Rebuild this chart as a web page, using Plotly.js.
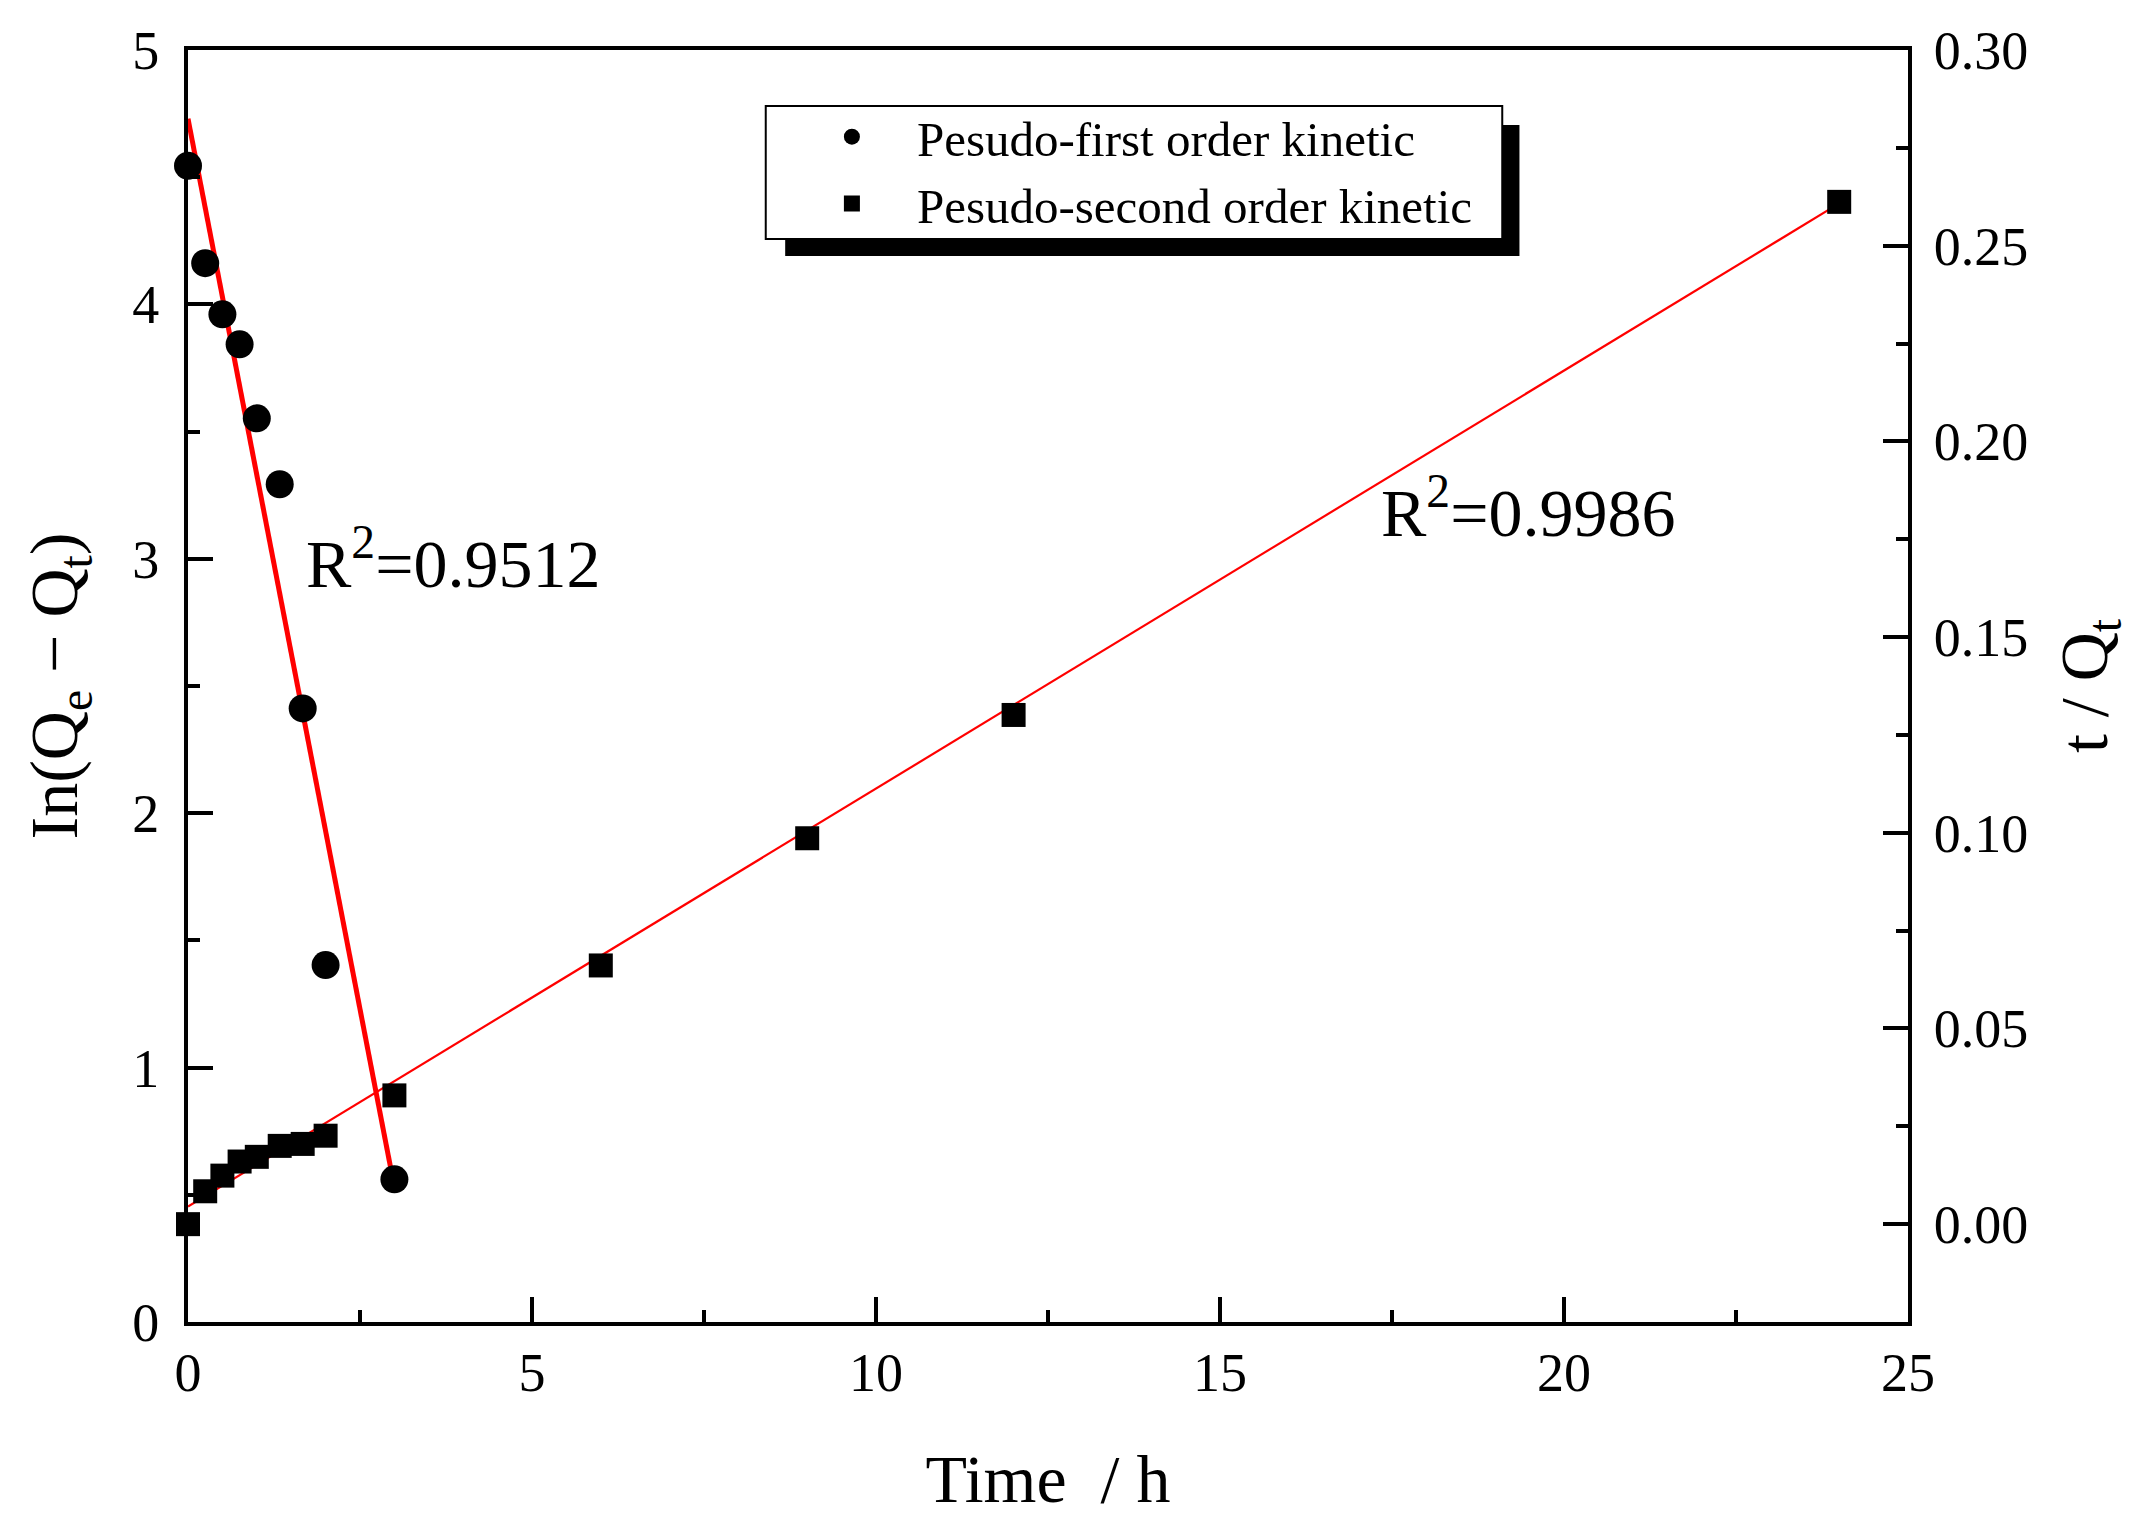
<!DOCTYPE html>
<html>
<head>
<meta charset="utf-8">
<script src="https://cdn.plot.ly/plotly-3.0.1.min.js"></script>
<style>
  html, body { margin: 0; padding: 0; background: #ffffff; }
  #graph { width: 2155px; height: 1532px; }
</style>
</head>
<body>
<div id="graph"></div>
<script>
// time points (h)
var time_first = [0, 0.25, 0.5, 0.75, 1, 1.333, 1.667, 2, 3];
var time_second = [0, 0.25, 0.5, 0.75, 1, 1.333, 1.667, 2, 3, 6, 9, 12, 24];

// pseudo-first order: ln(Qe - Qt), left axis
var ln_qe_qt = [4.545, 4.162, 3.961, 3.843, 3.552, 3.293, 2.412, 1.403, 0.561];

// pseudo-second order: t / Qt, right axis
var t_over_qt = [0, 0.0084, 0.0124, 0.0160, 0.0172, 0.0200, 0.0205, 0.0226, 0.0329, 0.0661, 0.0986, 0.1301, 0.2612];

// fitted lines, end points
var fit_first_x = [0, 3];
var fit_first_y = [4.73, 0.53];
var fit_second_x = [0, 24];
var fit_second_y = [0.0045, 0.2608];

var r2_labels = ['R<sup>2</sup>=0.9512', 'R<sup>2</sup>=0.9986'];

var FONT = 'Liberation Serif, Times New Roman, serif';
var GRAPHDIV = document.getElementById('graph');

var data = [];

//fit lines first so the markers sit on top
data.push({
    x: fit_first_x,
    y: fit_first_y,
    mode: 'lines',
    line: {color: '#ff0000', width: 5},
    showlegend: false,
    hoverinfo: 'none'
});
data.push({
    x: fit_second_x,
    y: fit_second_y,
    yaxis: 'y2',
    mode: 'lines',
    line: {color: '#ff0000', width: 2.2},
    showlegend: false,
    hoverinfo: 'none'
});

data.push({
    x: time_first,
    y: ln_qe_qt,
    name: 'Pesudo-first order kinetic',
    mode: 'markers',
    marker: {symbol: 'circle', size: 28, color: '#000000'},
    cliponaxis: false,
    hoverinfo: 'none'
});
data.push({
    x: time_second,
    y: t_over_qt,
    yaxis: 'y2',
    name: 'Pesudo-second order kinetic',
    mode: 'markers',
    marker: {symbol: 'square', size: 24, color: '#000000'},
    cliponaxis: false,
    hoverinfo: 'none'
});

var tickFont = {family: FONT, size: 54, color: '#000000'};
var titleFont = {family: FONT, size: 68, color: '#000000'};

var LAYOUT = {
    width: 2155,
    height: 1532,
    paper_bgcolor: '#ffffff',
    plot_bgcolor: '#ffffff',
    margin: {l: 188, r: 247, t: 50, b: 210, pad: 0},
    font: {family: FONT, color: '#000000'},
    showlegend: true,
    //the box and its shadow are shapes below, the legend only holds the entries
    legend: {
        x: 0.3482,
        y: 0.962,
        xanchor: 'left',
        yanchor: 'top',
        bgcolor: 'rgba(0,0,0,0)',
        borderwidth: 0,
        itemwidth: 120,
        font: {family: FONT, size: 49, color: '#000000'}
    },
    xaxis: {
        range: [0, 25],
        dtick: 5,
        tick0: 0,
        showgrid: false,
        zeroline: false,
        showline: true,
        mirror: true,
        linecolor: '#000000',
        linewidth: 4,
        ticks: 'inside',
        ticklen: 25,
        tickwidth: 4,
        tickcolor: '#000000',
        minor: {dtick: 2.5, ticks: 'inside', ticklen: 12, tickwidth: 4, tickcolor: '#000000'},
        tickfont: tickFont,
        ticklabelstandoff: 0,
        title: {text: 'Time\u00a0 / h', font: titleFont, standoff: 54}
    },
    yaxis: {
        range: [0, 5],
        dtick: 1,
        tick0: 0,
        showgrid: false,
        zeroline: false,
        showline: true,
        linecolor: '#000000',
        linewidth: 4,
        ticks: 'inside',
        ticklen: 25,
        tickwidth: 4,
        tickcolor: '#000000',
        minor: {dtick: 0.5, ticks: 'inside', ticklen: 12, tickwidth: 4, tickcolor: '#000000'},
        tickfont: tickFont,
        ticklabelstandoff: 14,
        title: {text: 'In(Q<sub>e</sub> \u2212 Q<sub>t</sub>)', font: titleFont, standoff: 33}
    },
    yaxis2: {
        overlaying: 'y',
        side: 'right',
        range: [-0.025, 0.30],
        dtick: 0.05,
        tick0: 0,
        tickformat: '.2f',
        showgrid: false,
        zeroline: false,
        showline: true,
        linecolor: '#000000',
        linewidth: 4,
        ticks: 'inside',
        ticklen: 25,
        tickwidth: 4,
        tickcolor: '#000000',
        minor: {dtick: 0.025, ticks: 'inside', ticklen: 12, tickwidth: 4, tickcolor: '#000000'},
        tickfont: tickFont,
        ticklabelstandoff: 11,
        title: {text: 't / Q<sub>t</sub>', font: titleFont, standoff: 33}
    },
    shapes: [{
        //legend drop shadow
        type: 'rect',
        xref: 'paper',
        yref: 'paper',
        x0: 0.3472,
        x1: 0.7741,
        y0: 0.8381,
        y1: 0.9410,
        fillcolor: '#000000',
        line: {width: 0},
        layer: 'above'
    }, {
        //legend box
        type: 'rect',
        xref: 'paper',
        yref: 'paper',
        x0: 0.3359,
        x1: 0.7641,
        y0: 0.8514,
        y1: 0.9560,
        fillcolor: '#ffffff',
        line: {color: '#000000', width: 2},
        layer: 'above'
    }],
    annotations: [{
        x: 1.68,
        y: 3.0,
        xref: 'x',
        yref: 'y',
        text: r2_labels[0],
        showarrow: false,
        xanchor: 'left',
        yanchor: 'middle',
        font: {family: FONT, size: 68, color: '#000000'}
    }, {
        x: 17.31,
        y: 3.2,
        xref: 'x',
        yref: 'y',
        text: r2_labels[1],
        showarrow: false,
        xanchor: 'left',
        yanchor: 'middle',
        font: {family: FONT, size: 68, color: '#000000'}
    }]
};

Plotly.newPlot(GRAPHDIV, data, LAYOUT, {staticPlot: true, responsive: false});
</script>
</body>
</html>
